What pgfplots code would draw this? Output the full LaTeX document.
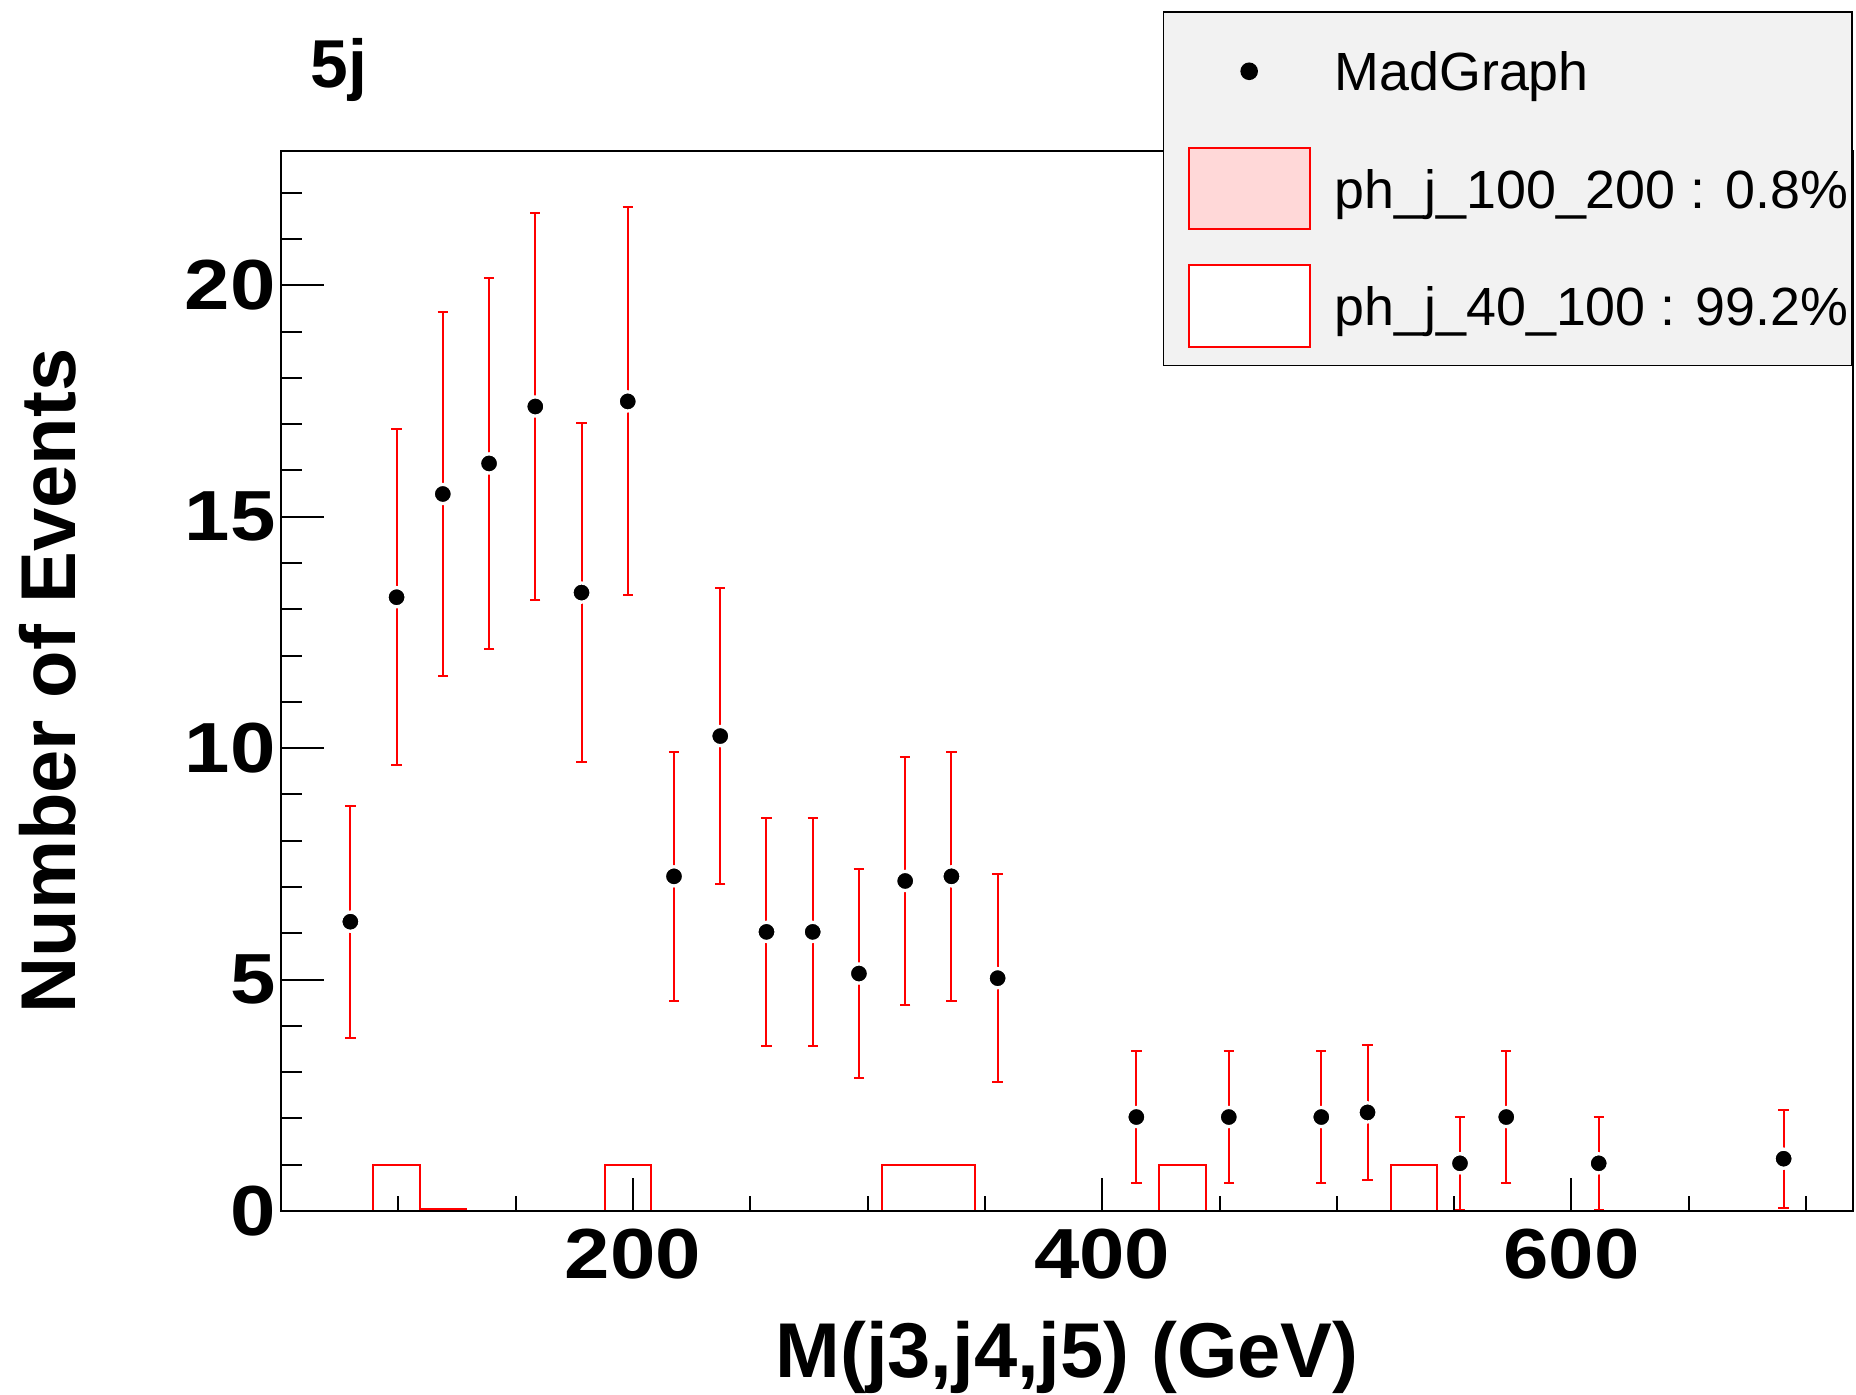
\documentclass[border=0pt]{standalone}
\usepackage{fontspec}
\setmainfont{Liberation Sans}
\usepackage{pgfplots}
\pgfplotsset{compat=1.18}
\definecolor{pinkfill}{RGB}{255,216,216}
\definecolor{legfill}{RGB}{242,242,242}

\begin{document}
\begin{tikzpicture}
\begin{axis}[
  name=ax, at={(0,0)}, anchor=south west,
  scale only axis, width=393bp, height=265bp,
  xmin=50, xmax=720, ymin=0, ymax=22.9,
  axis on top,
  axis line style={line width=0.5bp, black},
  xtick={200,400,600},
  minor xtick={100,150,250,300,350,450,500,550,650,700},
  ytick={0,5,10,15,20},
  minor ytick={1,2,3,4,6,7,8,9,11,12,13,14,16,17,18,19,21,22},
  tick pos=left,
  tick align=inside,
  xtick style={black, line width=0.5bp, /pgfplots/major tick length=8.3bp, /pgfplots/minor tick length=3.75bp},
  ytick style={black, line width=0.5bp, /pgfplots/major tick length=10.8bp, /pgfplots/minor tick length=5.3bp},
  /pgf/number format/assume math mode=true,
  ticklabel style={font=\fontsize{17.8}{20}\selectfont\bfseries},
  xticklabel style={xscale=1.15, inner xsep=0pt, inner ysep=4.4bp},
  yticklabel style={xscale=1.15, inner xsep=1bp, inner ysep=0pt},
  title={5j},
  title style={at={(axis description cs:0,1)}, anchor=base west, xshift=7.3bp, yshift=9.8bp, inner sep=0pt, font=\fontsize{17}{20}\selectfont\bfseries},
  xlabel={M(j3,j4,j5) (GeV)},
  xlabel style={at={(axis description cs:0.5,-0.1575)}, anchor=base, inner sep=0pt, font=\fontsize{19.5}{22}\selectfont\bfseries},
  ylabel={Number of Events},
  ylabel style={at={(axis description cs:-0.1486,0.5)}, anchor=center, rotate=0, inner sep=0pt, font=\fontsize{19.5}{22}\selectfont\bfseries},
  legend style={at={(1,1)}, anchor=north east, yshift=35bp, fill=legfill, draw=black, line width=0.4bp,
    inner xsep=1bp, inner ysep=0.2bp, row sep=0pt, column sep=6bp,
    font=\fontsize{13.5}{16}\selectfont, nodes={inner sep=0pt, text depth=0pt}},
  legend cell align=left,
  reverse legend,
]
% stacked total (ph_j_40_100 on top of ph_j_100_200)
\addplot[draw=red, line width=0.5bp, fill=white, const plot mark left,
  legend image code/.code={\path[draw=none, fill=none] (-5.25bp,-14.67bp) rectangle (30.25bp,14.67bp);
    \draw[red, line width=0.5bp, fill=white] (0,-10.2bp) rectangle (30.25bp,10.2bp);}]
  coordinates {(50,0) (89.412,1) (109.118,0.048) (128.824,0) (187.941,1) (207.647,0)
   (306.176,1) (345.588,0) (424.412,1) (444.118,0) (522.941,1) (542.647,0) (720,0)};
\addlegendentry{ph\_j\_40\_100 : 99.2\%}
\addplot[draw=red, line width=0.5bp, fill=pinkfill, const plot mark left,
  legend image code/.code={\path[draw=none, fill=none] (-5.25bp,-14.67bp) rectangle (30.25bp,14.67bp);
    \draw[red, line width=0.5bp, fill=pinkfill] (0,-10.2bp) rectangle (30.25bp,10.2bp);}]
  coordinates {(50,0) (109.118,0.048) (128.824,0) (720,0)};
\addlegendentry{ph\_j\_100\_200 : 0.8\%}
\addplot[only marks, mark=*, mark size=2.4bp,
  mark options={fill=black, draw=white, line width=0.8bp},
  legend image code/.code={\path[draw=none, fill=none] (-5.25bp,-14.67bp) rectangle (30.25bp,14.67bp);
    \fill[black] (15.125bp,0) circle (2bp);},
  error bars/.cd, y dir=both, y explicit,
  error bar style={red, line width=0.5bp},
  error mark options={red, rotate=90, mark size=1.3bp, line width=0.5bp}]
  table[x=x, y=y, y error=e] {
x y e
79.56 6.25 2.51
99.26 13.26 3.63
118.97 15.49 3.94
138.68 16.15 4.01
158.38 17.38 4.17
178.09 13.36 3.66
197.79 17.49 4.19
217.50 7.23 2.69
237.21 10.26 3.20
256.91 6.03 2.46
276.62 6.03 2.46
296.32 5.13 2.26
316.03 7.13 2.67
335.74 7.23 2.69
355.44 5.03 2.24
414.56 2.03 1.42
453.97 2.03 1.42
493.38 2.03 1.42
513.09 2.13 1.46
552.50 1.03 1.01
572.21 2.03 1.42
611.62 1.03 1.01
690.44 1.13 1.06
};
\addlegendentry{MadGraph}
\end{axis}
\pgfresetboundingbox
\path[use as bounding box] (-70.25bp,-46bp) rectangle (393.75bp,302.75bp);
\end{tikzpicture}
\end{document}
